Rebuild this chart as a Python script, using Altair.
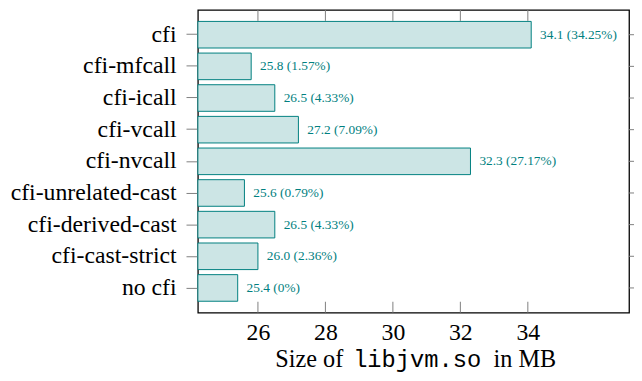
import altair as alt
import pandas as pd

categories = ["cfi", "cfi-mfcall", "cfi-icall", "cfi-vcall", "cfi-nvcall",
              "cfi-unrelated-cast", "cfi-derived-cast", "cfi-cast-strict", "no cfi"]
sizes = [34.1, 25.8, 26.5, 27.2, 32.3, 25.6, 26.5, 26.0, 25.4]
pcts = ["34.25", "1.57", "4.33", "7.09", "27.17", "0.79", "4.33", "2.36", "0"]
x_ticks = [26, 28, 30, 32, 34]
x_min, x_max = 24.22, 37.0

TEAL = "#008080"
FILL = "#cce5e5"
SERIF = "Liberation Serif"
MONO = "Liberation Mono"
W, H = 436, 306

df = pd.DataFrame({
    "cat": categories,
    "size": sizes,
    "label": [f"{s:.1f} ({p}%)" for s, p in zip(sizes, pcts)],
})
ticks_df = pd.DataFrame({"t": x_ticks})

xscale = alt.Scale(domain=[x_min, x_max], nice=False, zero=False)
yscale = alt.Scale(domain=categories, paddingInner=0.16, paddingOuter=0.36)

base = alt.Chart(df)

bars = base.mark_bar(fill=FILL, stroke=TEAL, strokeWidth=1).encode(
    x=alt.X("size:Q", scale=xscale,
            axis=alt.Axis(values=x_ticks, title=None, grid=False, domain=False,
                          ticks=False, labelFont=SERIF, labelFontSize=24,
                          labelColor="black", labelPadding=8)),
    x2=alt.datum(x_min),
    y=alt.Y("cat:N", scale=yscale, sort=categories,
            axis=alt.Axis(title=None, grid=False, domain=False, tickSize=12,
                          tickColor="#808080", tickWidth=1, labelFont=SERIF,
                          labelFontSize=24, labelColor="black", labelPadding=10)),
)

labels = base.mark_text(align="left", baseline="middle", dx=9, font=SERIF,
                        fontSize=13.5, color=TEAL).encode(
    x=alt.X("size:Q", scale=xscale),
    y=alt.Y("cat:N", scale=yscale, sort=categories),
    text="label:N",
)

right_ticks = base.mark_rule(color="#808080", strokeWidth=1, clip=False).encode(
    y=alt.Y("cat:N", scale=yscale, sort=categories),
    x=alt.value(W),
    x2=alt.value(W + 6),
)

top_ticks = alt.Chart(ticks_df).mark_rule(color="#808080", strokeWidth=1).encode(
    x=alt.X("t:Q", scale=xscale), y=alt.value(0), y2=alt.value(11))
bot_ticks = alt.Chart(ticks_df).mark_rule(color="#808080", strokeWidth=1).encode(
    x=alt.X("t:Q", scale=xscale), y=alt.value(H - 11), y2=alt.value(H))

one = pd.DataFrame({"k": [0]})
ty = 354
t1 = alt.Chart(one).mark_text(text="Size of", align="right", baseline="middle",
                              font=SERIF, fontSize=24.5, color="black").encode(
    x=alt.value(147), y=alt.value(ty))
t2 = alt.Chart(one).mark_text(text="libjvm.so", align="left", baseline="middle",
                              font=MONO, fontSize=24, color="black").encode(
    x=alt.value(157), y=alt.value(ty))
t3 = alt.Chart(one).mark_text(text="in MB", align="left", baseline="middle",
                              font=SERIF, fontSize=24.5, color="black").encode(
    x=alt.value(299), y=alt.value(ty))

chart = alt.layer(bars, labels, right_ticks, top_ticks, bot_ticks, t1, t2, t3).properties(
    width=W, height=H,
    autosize=alt.AutoSizeParams(type="none"),
    padding={"left": 192, "top": 0, "right": 5, "bottom": 59},
).configure_view(stroke="black", strokeWidth=1.3)

chart.save("out.html", embed_options={"renderer": "svg", "actions": False})
